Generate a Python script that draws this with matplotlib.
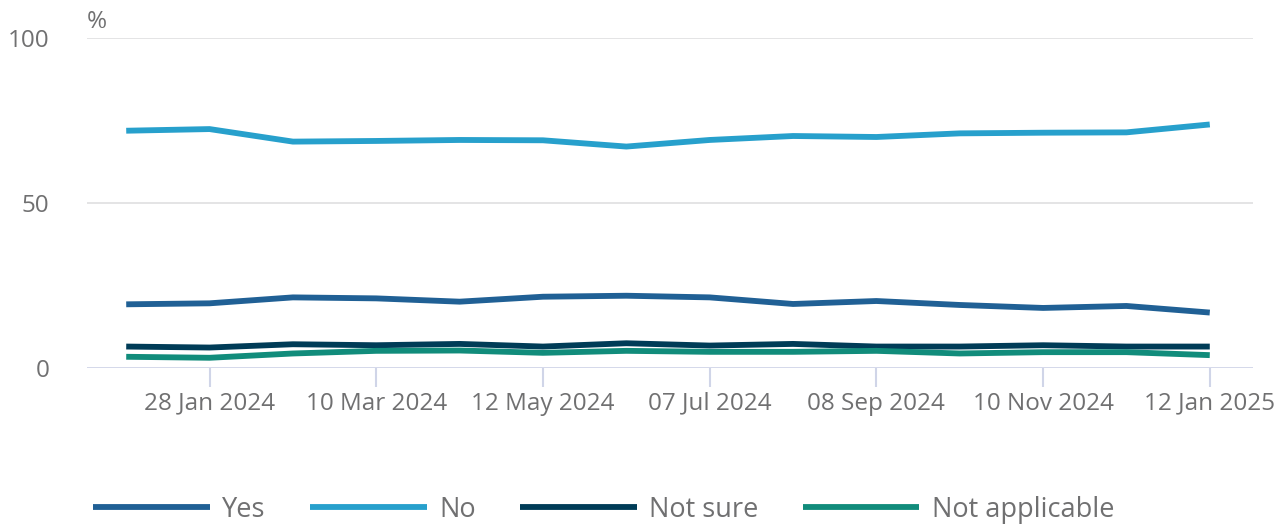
import matplotlib

matplotlib.use("Agg")
import matplotlib.pyplot as plt

plt.rcParams["font.family"] = ["Open Sans", "DejaVu Sans"]

# survey waves, equally spaced on the chart; only every other wave is labelled
TICK_LABELS = ["28 Jan 2024", "10 Mar 2024", "12 May 2024", "07 Jul 2024",
               "08 Sep 2024", "10 Nov 2024", "12 Jan 2025"]
YES = [19.3, 19.6, 21.4, 21.1, 20.1, 21.6, 21.9, 21.4, 19.4, 20.3, 19.1,
       18.2, 18.8, 16.8]
NO = [71.9, 72.4, 68.6, 68.8, 69.1, 69.0, 67.1, 69.1, 70.3, 70.0, 71.1,
      71.3, 71.4, 73.8]
NOT_SURE = [6.5, 6.2, 7.2, 6.9, 7.3, 6.5, 7.5, 6.8, 7.3, 6.5, 6.5, 6.9,
            6.5, 6.5]
NOT_APPLICABLE = [3.4, 3.1, 4.4, 5.2, 5.3, 4.6, 5.2, 4.9, 4.9, 5.2, 4.4,
                  4.8, 4.8, 3.9]
SERIES = [("Yes", YES, "#206095"), ("No", NO, "#27a0cc"),
          ("Not sure", NOT_SURE, "#003c57"),
          ("Not applicable", NOT_APPLICABLE, "#118c7b")]

TEXT, GRID, AXIS = "#707071", "#e2e2e3", "#d0d5e8"
FS = 17.5

fig = plt.figure(figsize=(12.8, 5.24), dpi=100)
ax = fig.add_axes([0.068, 0.2977, 0.911, 0.6298])

xs = list(range(len(YES)))
for name, vals, col in SERIES:
    ax.plot(xs, vals, color=col, lw=4.2, label=name, solid_capstyle="butt")

ax.set_xlim(-0.47, len(xs) - 1 + 0.52)
ax.set_ylim(0, 100)
ax.set_yticks([0, 50, 100])
for y in (50, 100):
    ax.axhline(y, color=GRID, lw=1.3, zorder=0)
ax.axhline(0, color=AXIS, lw=2, zorder=0)

ax.set_xticks(xs[1::2])
ax.set_xticklabels(TICK_LABELS)
ax.tick_params(axis="x", length=14, width=1.5, color=AXIS, labelsize=FS,
               labelcolor=TEXT, pad=3)
ax.tick_params(axis="y", length=0, labelsize=FS, labelcolor=TEXT, pad=27)
for s in ax.spines.values():
    s.set_visible(False)

ax.text(-0.47, 104.8, "%", fontsize=FS, color=TEXT, ha="left", va="center")

leg = fig.legend(loc="lower left", bbox_to_anchor=(0.054, -0.046), ncol=4,
                 frameon=False, fontsize=19.5, handlelength=4.3,
                 handletextpad=0.45, columnspacing=1.65)
for t in leg.get_texts():
    t.set_color(TEXT)

fig.savefig("out.png", dpi=100)
